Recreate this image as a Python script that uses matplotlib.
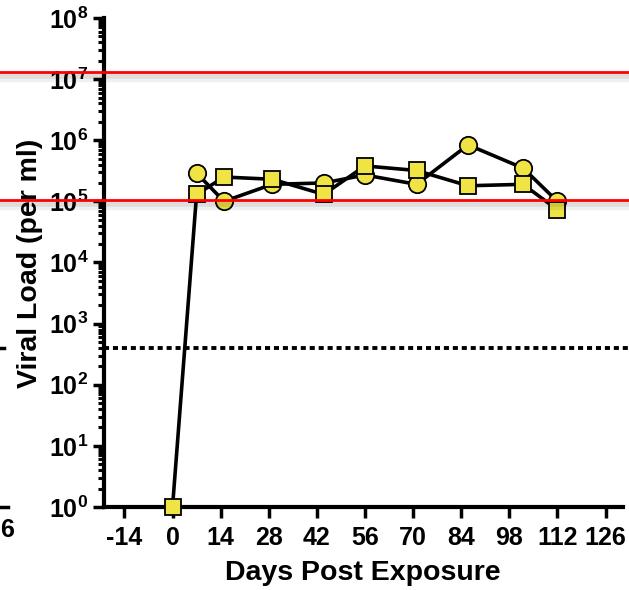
import matplotlib
matplotlib.use("Agg")
import matplotlib.pyplot as plt
import matplotlib.patheffects as pe
from matplotlib.transforms import blended_transform_factory
from matplotlib.lines import Line2D
from matplotlib.ticker import LogLocator, NullFormatter, FixedLocator

plt.rcParams['font.family'] = ['Liberation Sans', 'DejaVu Sans']
plt.rcParams['font.weight'] = 'bold'
plt.rcParams['mathtext.fontset'] = 'custom'
plt.rcParams['mathtext.rm'] = 'Liberation Sans:bold'
plt.rcParams['mathtext.bf'] = 'Liberation Sans:bold'

# data
days_circle = [7, 15, 29, 44, 56, 71, 86, 102, 112]
load_circle = [2.9e5, 1.0e5, 1.9e5, 2.0e5, 2.7e5, 1.9e5, 8.4e5, 3.5e5, 1.0e5]
days_square = [0, 7, 15, 29, 44, 56, 71, 86, 102, 112]
load_square = [1, 1.3e5, 2.5e5, 2.3e5, 1.3e5, 3.8e5, 3.2e5, 1.8e5, 1.9e5, 7.3e4]
red_levels = [1.3e7, 1.05e5]
detect_limit = 400
x_ticks = [-14, 0, 14, 28, 42, 56, 70, 84, 98, 112, 126]
y_ticks = [1e0, 1e1, 1e2, 1e3, 1e4, 1e5, 1e6, 1e7, 1e8]

fig = plt.figure(figsize=(6.29, 5.90), dpi=100)
ax = fig.add_axes([0.165, 0.1407, 0.825, 0.8288])

yellow = '#EFE443'
ax.plot(days_circle, load_circle, '-', color='k', lw=2.6, zorder=3,
        marker='o', ms=12.5, mfc=yellow, mec='k', mew=1.3, clip_on=False)
ax.plot(days_square, load_square, '-', color='k', lw=2.6, zorder=4,
        marker='s', ms=12, mfc=yellow, mec='k', mew=1.3, clip_on=False)

# detection limit
ax.plot([-20, 140], [detect_limit, detect_limit], color='k', lw=2.8,
        ls=(0, (1.3, 1.0)), zorder=2, clip_on=False)

# red lines across the whole figure
tr = blended_transform_factory(fig.transFigure, ax.transData)
for lv in red_levels:
    ax.plot([0, 1], [lv, lv], color='#FF0000', lw=2.0, transform=tr,
            clip_on=False, zorder=6,
            path_effects=[pe.SimpleLineShadow(offset=(0, -4), shadow_color='k',
                                              alpha=0.06, linewidth=6),
                          pe.SimpleLineShadow(offset=(0, -2.5), shadow_color='k',
                                              alpha=0.08, linewidth=4),
                          pe.Normal()])

ax.set_yscale('log')
ax.set_ylim(1, 1e8)
ax.set_xlim(-20, 131)

ax.xaxis.set_major_locator(FixedLocator(x_ticks))
ax.set_xticklabels([str(t) for t in x_ticks])
ax.set_yticks(y_ticks)
ax.set_yticklabels([r'$\mathbf{10^{%d}}$' % i for i in range(9)])
ax.yaxis.set_minor_locator(LogLocator(base=10, subs=range(2, 10), numticks=20))
ax.yaxis.set_minor_formatter(NullFormatter())

for s in ['top', 'right']:
    ax.spines[s].set_visible(False)
for s in ['left', 'bottom']:
    ax.spines[s].set_linewidth(3)

ax.tick_params(axis='both', which='major', width=2.5, length=8, labelsize=18)
ax.tick_params(axis='x', which='major', pad=6)
ax.tick_params(axis='y', which='major', pad=3)
ax.tick_params(axis='y', which='minor', width=2.2, length=4.5)
for lab in ax.get_xticklabels() + ax.get_yticklabels():
    lab.set_fontweight('bold')

ax.set_xlabel('Days Post Exposure', fontsize=20.5, fontweight='bold')
ax.set_ylabel('Viral Load (per ml)', fontsize=20.5, fontweight='bold')
ax.xaxis.set_label_coords(0.5, -0.068 * 590 / 590 - 0.0)
ax.xaxis.label.set_va('center')
ax.xaxis.set_label_coords(0.5, (507 - 573) / 489)
ax.yaxis.label.set_va('center')
ax.yaxis.set_label_coords((30 - 104) / 519, (507 - 263) / 489)

# fragments of the neighbouring panel at the left edge
fig.text(14 / 629, 1 - 530 / 590, '6', fontsize=18, fontweight='bold',
         va='center', ha='right')
fig.add_artist(Line2D([0, 8 / 629], [1 - 507 / 590] * 2, color='k', lw=2.5))
fig.add_artist(Line2D([0, 4 / 629], [1 - 348 / 590] * 2, color='k', lw=2.5))

fig.savefig('out.png', dpi=100)
